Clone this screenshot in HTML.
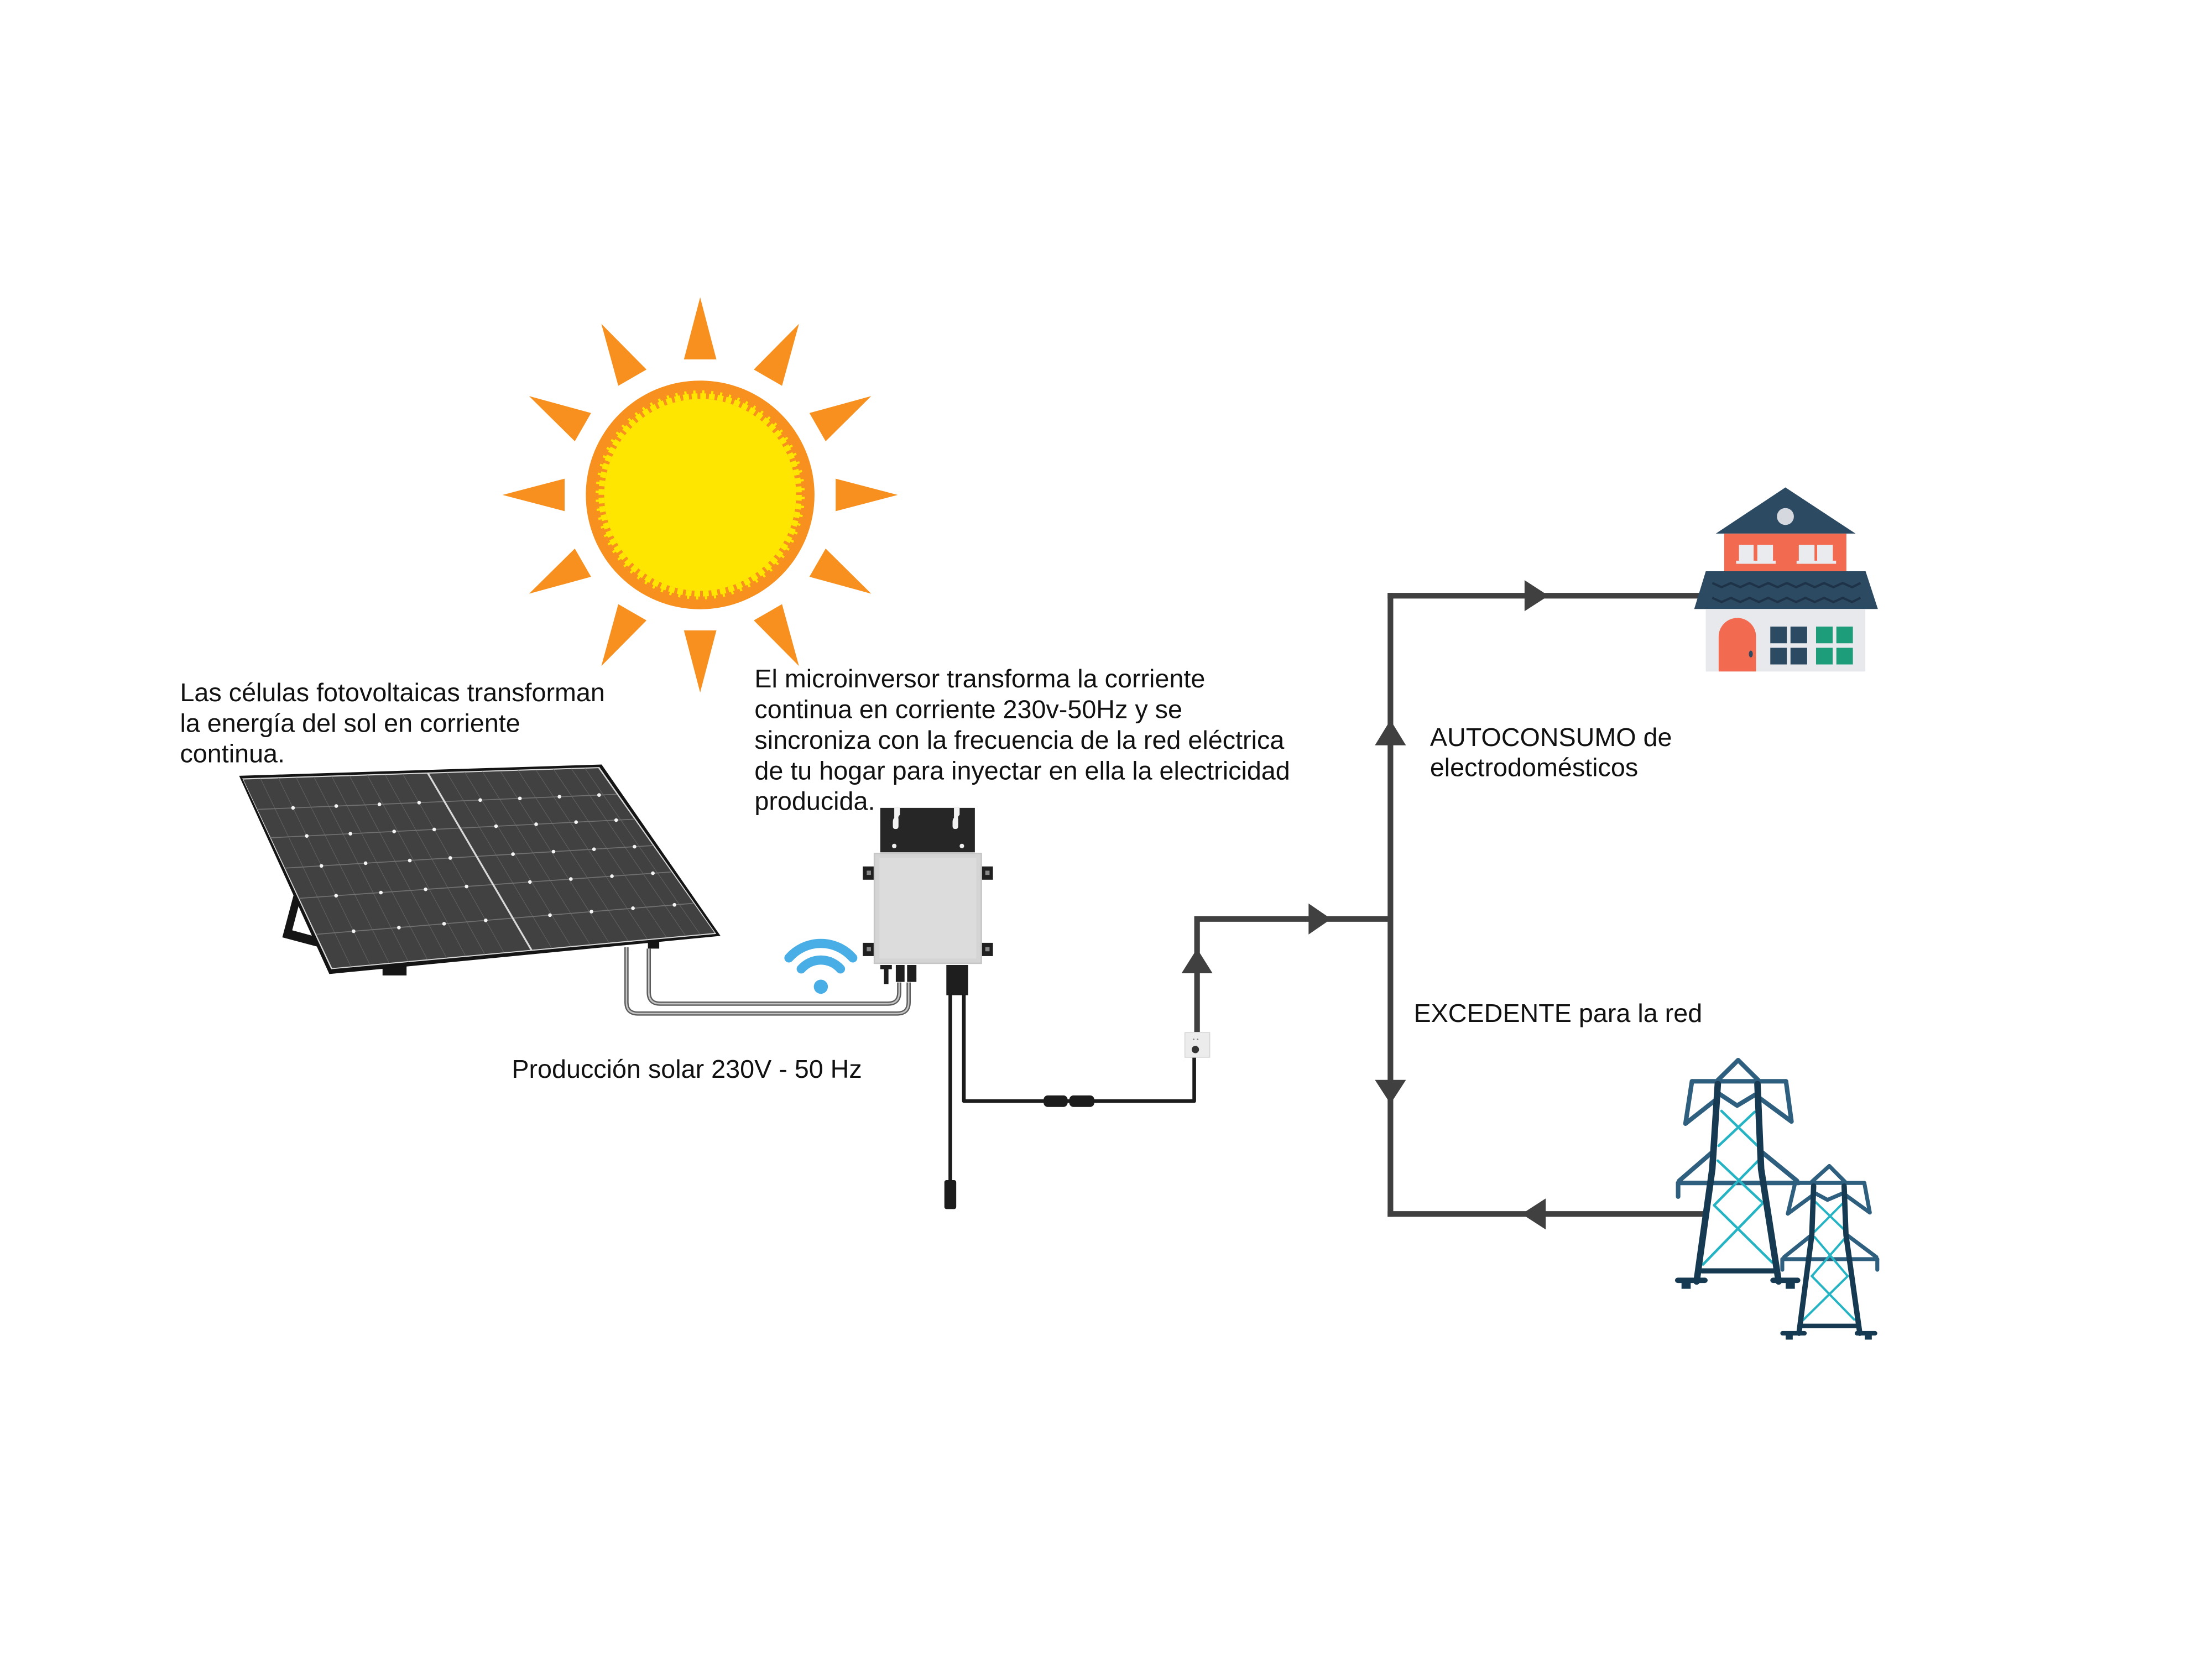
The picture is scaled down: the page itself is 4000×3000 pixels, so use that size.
<!DOCTYPE html>
<html>
<head>
<meta charset="utf-8">
<style>
  html,body{margin:0;padding:0;background:#fff;}
  body{width:4000px;height:3000px;overflow:hidden;}
  svg{display:block;}
  text{font-family:"Liberation Sans", Arial, sans-serif;font-size:18.3px;fill:#111;}
</style>
</head>
<body>
<svg width="4000" height="3000" viewBox="0 0 1567 1175.25" preserveAspectRatio="none" xmlns="http://www.w3.org/2000/svg">
  <rect x="0" y="0" width="1567" height="1175.25" fill="#ffffff"/>

  <!-- ===== SUN ===== -->
  <g fill="#f7901e">
    <polygon points="636,350.6 592,339.1 592,362.1"/>
    <polygon points="617.2,420.6 573.4,408.6 584.9,388.6"/>
    <polygon points="566,471.8 534,439.5 554,428"/>
    <polygon points="496,490.6 484.5,446.6 507.5,446.6"/>
    <polygon points="426,471.8 438,428 458,439.5"/>
    <polygon points="374.8,420.6 407.2,388.6 418.7,408.6"/>
    <polygon points="356,350.6 400,339.1 400,362.1"/>
    <polygon points="374.8,280.6 418.7,292.6 407.2,312.6"/>
    <polygon points="426,229.4 458,261.8 438,273.3"/>
    <polygon points="496,210.6 484.5,254.6 507.5,254.6"/>
    <polygon points="566,229.4 554,273.3 534,261.8"/>
    <polygon points="617.2,280.6 584.9,312.6 573.4,292.6"/>
    <circle cx="496" cy="350.6" r="81"/>
  </g>
  <circle cx="496" cy="350.6" r="68" fill="#ffe600"/>
  <circle cx="496" cy="350.6" r="70" fill="none" stroke="#ffe600" stroke-width="4" stroke-dasharray="4.1 2.008"/>
  <circle cx="496" cy="350.6" r="73" fill="none" stroke="#ffe600" stroke-width="2.2" stroke-dasharray="1.6 4.77" stroke-dashoffset="-1.34"/>

  <!-- ===== TEXTS ===== -->
  <text x="127.5" y="496.8">Las células fotovoltaicas transforman</text>
  <text x="127.5" y="518.4">la energía del sol en corriente</text>
  <text x="127.5" y="540">continua.</text>

  <text x="534.5" y="487">El microinversor transforma la corriente</text>
  <text x="534.5" y="508.7">continua en corriente 230v-50Hz y se</text>
  <text x="534.5" y="530.4">sincroniza con la frecuencia de la red eléctrica</text>
  <text x="534.5" y="552.1">de tu hogar para inyectar en ella la electricidad</text>
  <text x="534.5" y="573.8">producida.</text>

  <text x="1013" y="528.5">AUTOCONSUMO de</text>
  <text x="1013" y="549.8">electrodomésticos</text>
  <text x="1001.5" y="724">EXCEDENTE para la red</text>
  <text x="362.5" y="763.5">Producción solar 230V - 50 Hz</text>

  <!-- ===== SOLAR PANEL ===== -->
  <!-- stand -->
  <polygon points="208,634 200,664 230,672 229,665 207,659 212,640" fill="#151515"/>
  <rect x="271" y="684" width="17" height="7" fill="#151515"/>
  <rect x="459" y="666" width="8" height="6" fill="#151515"/>
  <!-- frame -->
  <polygon points="169.4,549.6 426.2,541.6 510.4,663 233.3,690" fill="#141414"/>
  <polygon points="171.6,551.4 424.6,543.4 507.4,661.6 234.6,686.6" fill="#d8d8d8"/>
  <polygon points="172.4,552.2 423.9,544.2 506.2,660.9 235.3,685.8" fill="#414141"/>
  <!-- cell columns -->
  <g stroke="#5e5e5e" stroke-width="0.45">
    <line x1="184.6" y1="551.6" x2="248.55" y2="684.75"/>
    <line x1="197.2" y1="551.2" x2="262.1" y2="683.5"/>
    <line x1="209.8" y1="550.8" x2="275.65" y2="682.25"/>
    <line x1="222.4" y1="550.4" x2="289.2" y2="681"/>
    <line x1="235" y1="550" x2="302.75" y2="679.75"/>
    <line x1="247.6" y1="549.6" x2="316.3" y2="678.5"/>
    <line x1="260.2" y1="549.2" x2="329.85" y2="677.25"/>
    <line x1="272.8" y1="548.8" x2="343.4" y2="676"/>
    <line x1="285.4" y1="548.4" x2="356.95" y2="674.75"/>
    <line x1="316.6" y1="547.4" x2="390.8" y2="671.6"/>
    <line x1="329.2" y1="547" x2="404.4" y2="670.4"/>
    <line x1="341.8" y1="546.6" x2="418" y2="669.1"/>
    <line x1="354.4" y1="546.2" x2="431.5" y2="667.9"/>
    <line x1="367" y1="545.8" x2="445" y2="666.6"/>
    <line x1="379.6" y1="545.4" x2="458.6" y2="665.4"/>
    <line x1="392.2" y1="545" x2="472.1" y2="664.1"/>
    <line x1="404.8" y1="544.6" x2="485.7" y2="662.9"/>
    <line x1="414.4" y1="544.3" x2="496" y2="662"/>
  </g>
  <!-- cell rows -->
  <g stroke="#707070" stroke-width="0.7">
    <line x1="182.1" y1="573.4" x2="437.1" y2="562.7"/>
    <line x1="191.5" y1="593.5" x2="449.4" y2="580.3"/>
    <line x1="201.6" y1="615" x2="462.5" y2="599"/>
    <line x1="211.7" y1="636.4" x2="475.7" y2="617.7"/>
    <line x1="223.7" y1="661.9" x2="491.2" y2="639.9"/>
  </g>
  <!-- divider -->
  <line x1="303" y1="547.6" x2="376.5" y2="673" stroke="#d9d9d9" stroke-width="1.3"/>
  <!-- sparkles -->
  <g fill="#f4f4f4">
    <circle cx="207.6" cy="572.3" r="1.3"/><circle cx="238.2" cy="571" r="1.3"/><circle cx="268.8" cy="569.8" r="1.3"/><circle cx="296.9" cy="568.6" r="1.3"/><circle cx="340.2" cy="566.8" r="1.3"/><circle cx="368.3" cy="565.6" r="1.3"/><circle cx="396.3" cy="564.4" r="1.3"/><circle cx="424.4" cy="563.2" r="1.3"/>
    <circle cx="217.3" cy="592.2" r="1.3"/><circle cx="248.2" cy="590.6" r="1.3"/><circle cx="279.2" cy="589" r="1.3"/><circle cx="307.6" cy="587.6" r="1.3"/><circle cx="351.4" cy="585.3" r="1.3"/><circle cx="379.8" cy="583.9" r="1.3"/><circle cx="408.1" cy="582.4" r="1.3"/><circle cx="436.5" cy="581" r="1.3"/>
    <circle cx="227.7" cy="613.4" r="1.3"/><circle cx="259" cy="611.5" r="1.3"/><circle cx="290.3" cy="609.6" r="1.3"/><circle cx="319" cy="607.8" r="1.3"/><circle cx="363.4" cy="605.1" r="1.3"/><circle cx="392.1" cy="603.3" r="1.3"/><circle cx="420.8" cy="601.6" r="1.3"/><circle cx="449.5" cy="599.8" r="1.3"/>
    <circle cx="238.1" cy="634.5" r="1.3"/><circle cx="269.8" cy="632.3" r="1.3"/><circle cx="301.5" cy="630" r="1.3"/><circle cx="330.5" cy="628" r="1.3"/><circle cx="375.4" cy="624.8" r="1.3"/><circle cx="404.4" cy="622.7" r="1.3"/><circle cx="433.5" cy="620.7" r="1.3"/><circle cx="462.5" cy="618.6" r="1.3"/>
    <circle cx="250.5" cy="659.7" r="1.3"/><circle cx="282.6" cy="657.1" r="1.3"/><circle cx="314.6" cy="654.4" r="1.3"/><circle cx="344.1" cy="652" r="1.3"/><circle cx="389.6" cy="648.3" r="1.3"/><circle cx="419" cy="645.8" r="1.3"/><circle cx="448.4" cy="643.4" r="1.3"/><circle cx="477.8" cy="641" r="1.3"/>
  </g>

  <!-- panel cables (gray) -->
  <g fill="none" stroke-linejoin="round">
    <path d="M443.8,671 V710 Q443.8,718 452,718 H635.5 Q643.7,718 643.7,710 V696" stroke="#5a5a5a" stroke-width="3"/>
    <path d="M443.8,671 V710 Q443.8,718 452,718 H635.5 Q643.7,718 643.7,710 V696" stroke="#c4c4c4" stroke-width="1.1"/>
    <path d="M459.6,672 V703 Q459.6,711 467.6,711 H629 Q637,711 637,703 V696" stroke="#5a5a5a" stroke-width="3"/>
    <path d="M459.6,672 V703 Q459.6,711 467.6,711 H629 Q637,711 637,703 V696" stroke="#c4c4c4" stroke-width="1.1"/>
  </g>

  <!-- wifi -->
  <g fill="none" stroke="#4aaee6" stroke-width="6.5" stroke-linecap="round">
    <path d="M558.9,678.6 A30,30 0 0 1 604.1,678.6"/>
    <path d="M567.6,686.4 A18.5,18.5 0 0 1 595.4,686.4"/>
  </g>
  <circle cx="581.5" cy="699" r="5" fill="#4aaee6"/>

  <!-- ===== MICROINVERTER ===== -->
  <rect x="623.6" y="572.3" width="67" height="31.5" fill="#262626"/>
  <path d="M633.5,572.3 h4 v5 q-1.5,1 -1,3 v5 q0,2 -2,2 q-2,0 -2,-2 v-3 q0,-2 1,-3 z" fill="#f2f2f2"/>
  <path d="M675.8,572.3 h4 v5 q-1.5,1 -1,3 v5 q0,2 -2,2 q-2,0 -2,-2 v-3 q0,-2 1,-3 z" fill="#f2f2f2"/>
  <circle cx="633.5" cy="599.3" r="1.6" fill="#eee"/>
  <circle cx="681.4" cy="599.3" r="1.6" fill="#eee"/>
  <!-- side tabs -->
  <g fill="#202020">
    <rect x="611.2" y="613.8" width="8.4" height="9.4"/>
    <rect x="611.2" y="667.9" width="8.4" height="9.4"/>
    <rect x="695" y="613.8" width="8.4" height="9.4"/>
    <rect x="695" y="667.9" width="8.4" height="9.4"/>
  </g>
  <g fill="#888">
    <rect x="614" y="616.8" width="3" height="3"/>
    <rect x="614" y="670.9" width="3" height="3"/>
    <rect x="698" y="616.8" width="3" height="3"/>
    <rect x="698" y="670.9" width="3" height="3"/>
  </g>
  <rect x="619.4" y="604.6" width="75.8" height="77.8" fill="#d4d4d4" stroke="#c6c6c6" stroke-width="1"/>
  <rect x="623" y="608" width="68.6" height="71" fill="#dcdcdc"/>
  <!-- bottom connectors -->
  <g fill="#1e1e1e">
    <rect x="623.6" y="683.6" width="8.2" height="3"/>
    <rect x="626.2" y="683.6" width="3.2" height="13.5"/>
    <rect x="634.6" y="683.6" width="6.2" height="12"/>
    <rect x="642.6" y="683.6" width="6.6" height="12"/>
    <rect x="670.4" y="683.6" width="15.4" height="21.4"/>
  </g>
  <!-- black AC cables -->
  <g fill="none" stroke="#1c1c1c" stroke-width="2.6" stroke-linejoin="round">
    <path d="M673.2,704 V838"/>
    <path d="M682.8,704 V780 H846 V747"/>
  </g>
  <rect x="669" y="836" width="8.4" height="20.5" rx="1.5" fill="#1c1c1c"/>
  <rect x="739.3" y="776" width="17" height="8.2" rx="3" fill="#1c1c1c"/>
  <rect x="757.5" y="776" width="17.7" height="8.2" rx="3" fill="#1c1c1c"/>
  <!-- outlet -->
  <rect x="839.4" y="731.5" width="17.6" height="17.5" fill="#ececec" stroke="#d4d4d4" stroke-width="0.6"/>
  <circle cx="846.8" cy="743.5" r="2.6" fill="#333"/>
  <circle cx="845.6" cy="736.3" r="0.6" fill="#888"/>
  <circle cx="848.4" cy="736.3" r="0.6" fill="#888"/>

  <!-- ===== CONNECTORS ===== -->
  <g fill="none" stroke="#404040" stroke-width="4" stroke-linejoin="miter" stroke-linecap="butt">
    <path d="M848,731 V651 H985"/>
    <path d="M985,420 V862"/>
    <path d="M983,422 H1206"/>
    <path d="M983,860 H1208"/>
  </g>
  <g fill="#404040">
    <polygon points="848,672 859,689.5 837,689.5"/>
    <polygon points="943,651 927,640 927,662"/>
    <polygon points="985,510 996,528 974,528"/>
    <polygon points="985,782 996,765 974,765"/>
    <polygon points="1097,422 1080,411 1080,433"/>
    <polygon points="1078,860 1095,849 1095,871"/>
  </g>

  <!-- ===== HOUSE ===== -->
  <polygon points="1264.8,345.3 1314.5,378 1215.5,378" fill="#2d4a63"/>
  <circle cx="1264.8" cy="365.9" r="6" fill="#d5d9df"/>
  <rect x="1221.4" y="378" width="86.6" height="27.2" fill="#f26b50"/>
  <g fill="#e9ebef">
    <rect x="1231.9" y="386" width="10.4" height="12.4"/>
    <rect x="1244.9" y="386" width="11.1" height="12.4"/>
    <rect x="1274.3" y="386" width="11.1" height="12.4"/>
    <rect x="1287.3" y="386" width="11.1" height="12.4"/>
    <rect x="1229.9" y="397.2" width="28" height="2.2"/>
    <rect x="1272.7" y="397.2" width="28" height="2.2"/>
  </g>
  <polygon points="1208.4,404.7 1321.6,404.7 1330.3,431.4 1200.2,431.4" fill="#2d4a63"/>
  <g fill="none" stroke="#1e3347" stroke-width="1.6" stroke-linejoin="round">
    <polyline points="1213,413 1219.6,416 1226.2,413 1232.8,416 1239.4,413 1246,416 1252.6,413 1259.2,416 1265.8,413 1272.4,416 1279,413 1285.6,416 1292.2,413 1298.8,416 1305.4,413 1312,416 1318,413"/>
    <polyline points="1213,423.5 1219.6,426.5 1226.2,423.5 1232.8,426.5 1239.4,423.5 1246,426.5 1252.6,423.5 1259.2,426.5 1265.8,423.5 1272.4,426.5 1279,423.5 1285.6,426.5 1292.2,423.5 1298.8,426.5 1305.4,423.5 1312,426.5 1318,423.5"/>
  </g>
  <rect x="1208.4" y="431.4" width="113" height="44.3" fill="#e8e9ec"/>
  <path d="M1217.5,475.7 V451 A13.25,13.25 0 0 1 1244,451 V475.7 Z" fill="#f26b50"/>
  <ellipse cx="1240.3" cy="463.3" rx="1.4" ry="2.4" fill="#2d4a63"/>
  <g fill="#2d4a63">
    <rect x="1254.1" y="443.9" width="11.7" height="11.8"/>
    <rect x="1268.4" y="443.9" width="11.8" height="11.8"/>
    <rect x="1254.1" y="458.9" width="11.7" height="11.8"/>
    <rect x="1268.4" y="458.9" width="11.8" height="11.8"/>
  </g>
  <g fill="#1e9d7a">
    <rect x="1286.5" y="443.9" width="11.8" height="11.8"/>
    <rect x="1300.9" y="443.9" width="11.7" height="11.8"/>
    <rect x="1286.5" y="458.9" width="11.8" height="11.8"/>
    <rect x="1300.9" y="458.9" width="11.7" height="11.8"/>
  </g>

  <!-- ===== TOWERS ===== -->
  <!-- big tower -->
  <g fill="none" stroke-linecap="round" stroke-linejoin="round">
    <g stroke="#2f5f7f" stroke-width="3.2">
      <polyline points="1216.9,765.2 1231.3,751 1245.6,765.2"/>
      <line x1="1198.6" y1="766" x2="1265.2" y2="766"/>
      <polyline points="1198.6,766 1194,796 1216.9,778"/>
      <polyline points="1265.2,766 1269.1,794.5 1245.6,777.2"/>
      <polyline points="1216.9,774.2 1230.6,783.2 1245.6,774.2"/>
      <line x1="1188.8" y1="838" x2="1274.4" y2="838"/>
      <line x1="1188.8" y1="838" x2="1188.8" y2="847.7"/>
      <line x1="1213" y1="816.2" x2="1189.5" y2="836.5"/>
      <line x1="1248.2" y1="816.2" x2="1273" y2="836.5"/>
    </g>
    <g stroke="#26b4c4" stroke-width="1.8">
      <line x1="1219.5" y1="787" x2="1245" y2="811.7"/>
      <line x1="1243" y1="787.7" x2="1217.5" y2="811.7"/>
      <line x1="1216.9" y1="822.2" x2="1248.9" y2="852.2"/>
      <line x1="1245.6" y1="822.2" x2="1214.3" y2="853.8"/>
      <line x1="1214.3" y1="853.8" x2="1255.4" y2="894.3"/>
      <line x1="1248.9" y1="852.2" x2="1206.4" y2="895.8"/>
    </g>
    <g stroke="#163a52">
      <polyline points="1216.9,768 1213,828.2 1201.9,907.8" stroke-width="4.6"/>
      <polyline points="1245,768 1247.6,828.2 1260,907.8" stroke-width="4.6"/>
      <line x1="1205.8" y1="900.3" x2="1258.7" y2="900.3" stroke-width="3.6"/>
      <line x1="1188.5" y1="907" x2="1207.8" y2="907" stroke-width="3.8"/>
      <line x1="1256" y1="907" x2="1273.5" y2="907" stroke-width="3.8"/>
    </g>
  </g>
  <rect x="1191.2" y="907" width="6.5" height="6" fill="#163a52"/>
  <rect x="1265" y="907" width="6.5" height="6" fill="#163a52"/>
  <!-- small tower -->
  <g fill="none" stroke-linecap="round" stroke-linejoin="round">
    <g stroke="#2f5f7f" stroke-width="2.8">
      <polyline points="1283.5,837.2 1295.9,826 1307,837.2"/>
      <line x1="1271.7" y1="838" x2="1320.7" y2="838"/>
      <polyline points="1271.7,838 1266.5,859.8 1284.8,846.3"/>
      <polyline points="1320.7,838 1324.6,859 1307,846.3"/>
      <polyline points="1284.8,844.7 1294.6,850 1307,844.7"/>
      <line x1="1262.6" y1="892" x2="1329.9" y2="892"/>
      <line x1="1262.6" y1="892" x2="1262.6" y2="899.5"/>
      <line x1="1329.9" y1="892" x2="1329.9" y2="899.5"/>
      <line x1="1283.5" y1="874.8" x2="1263.9" y2="890.5"/>
      <line x1="1308.3" y1="874.8" x2="1329.2" y2="890.5"/>
    </g>
    <g stroke="#26b4c4" stroke-width="1.6">
      <line x1="1286.1" y1="851.5" x2="1306.3" y2="871"/>
      <line x1="1305.7" y1="852.2" x2="1285.5" y2="872.5"/>
      <line x1="1285.5" y1="876.3" x2="1308.3" y2="903.3"/>
      <line x1="1307.7" y1="876.3" x2="1283.5" y2="904"/>
      <line x1="1283.5" y1="904" x2="1313.5" y2="934.8"/>
      <line x1="1309" y1="904" x2="1277" y2="935.5"/>
    </g>
    <g stroke="#163a52">
      <polyline points="1284.8,840.2 1283.5,874.8 1274.4,944.5" stroke-width="3.8"/>
      <polyline points="1306.4,840.2 1307.7,874.8 1317.5,944.5" stroke-width="3.8"/>
      <line x1="1275.7" y1="939.3" x2="1316.2" y2="939.3" stroke-width="3.2"/>
      <line x1="1262.8" y1="944.5" x2="1278.3" y2="944.5" stroke-width="3.2"/>
      <line x1="1315.5" y1="944.5" x2="1328.3" y2="944.5" stroke-width="3.2"/>
    </g>
  </g>
  <rect x="1265" y="944.5" width="5" height="4.5" fill="#163a52"/>
  <rect x="1321" y="944.5" width="5" height="4.5" fill="#163a52"/>
</svg>
</body>
</html>
